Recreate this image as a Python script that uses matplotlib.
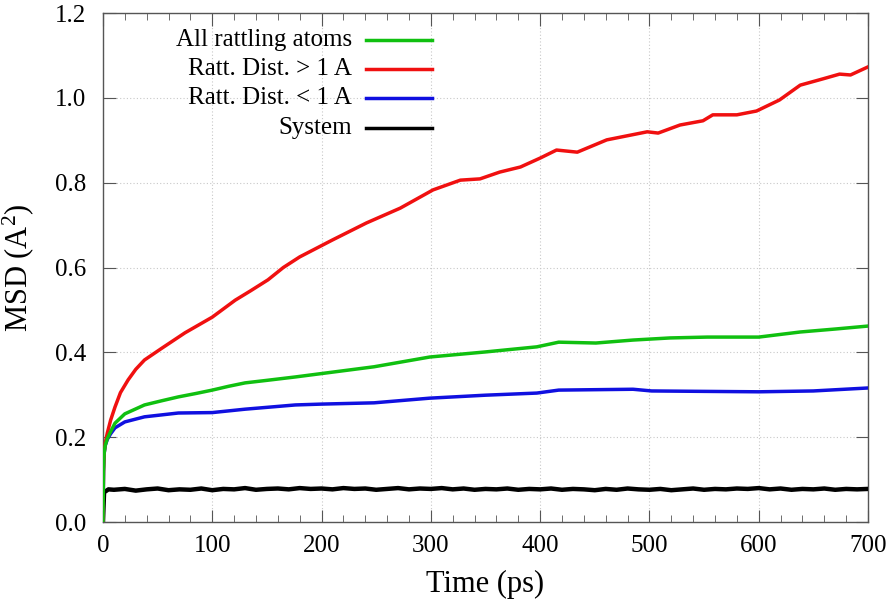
import numpy as np
import matplotlib
matplotlib.use("Agg")
import matplotlib.pyplot as plt
from matplotlib.ticker import MultipleLocator

plt.rcParams["font.family"] = ["Liberation Serif", "DejaVu Serif"]
plt.rcParams["mathtext.fontset"] = "custom"
plt.rcParams["mathtext.rm"] = "Liberation Serif"
plt.rcParams["mathtext.it"] = "Liberation Serif:italic"

# values
t_all = [0, 0.5, 1, 2, 4, 7, 11, 20, 38, 54, 69, 85, 100, 115, 130, 150, 176, 200,
         248, 299, 350, 397, 417, 451, 485, 519, 553, 600, 638, 670, 700]
msd_all = [0.0, 0.12, 0.16, 0.18, 0.197, 0.213, 0.233, 0.255, 0.276, 0.286, 0.295,
           0.303, 0.311, 0.32, 0.328, 0.334, 0.342, 0.35, 0.366, 0.389, 0.401, 0.413,
           0.424, 0.422, 0.429, 0.434, 0.436, 0.436, 0.448, 0.455, 0.462]

t_far = [0, 0.5, 1, 2, 4, 7, 11, 16, 23, 30, 38, 54, 75, 100, 121, 135, 151, 165,
         180, 210, 241, 272, 302, 327, 345, 363, 382, 400, 415, 434, 461, 498, 508,
         528, 549, 558, 580, 598, 619, 638, 659, 674, 684, 700]
msd_far = [0.0, 0.12, 0.16, 0.185, 0.21, 0.24, 0.271, 0.305, 0.335, 0.36, 0.382,
           0.41, 0.446, 0.483, 0.523, 0.545, 0.571, 0.6, 0.625, 0.665, 0.705, 0.74,
           0.783, 0.806, 0.809, 0.825, 0.837, 0.858, 0.877, 0.872, 0.901, 0.92,
           0.917, 0.936, 0.946, 0.96, 0.96, 0.969, 0.995, 1.03, 1.045, 1.056, 1.054,
           1.073]

t_near = [0, 0.5, 1, 2, 4, 7, 11, 20, 38, 69, 100, 130, 176, 200, 248, 299, 350,
          397, 417, 485, 502, 550, 600, 650, 700]
msd_near = [0.0, 0.12, 0.16, 0.18, 0.195, 0.208, 0.222, 0.236, 0.248, 0.257, 0.258,
            0.266, 0.276, 0.278, 0.281, 0.292, 0.299, 0.304, 0.311, 0.313, 0.309,
            0.308, 0.307, 0.309, 0.316]

t_sys = [0, 1, 5] + list(range(10, 701, 10))
msd_sys = [0.0, 0.07, 0.077,
           0.076, 0.078, 0.074, 0.077, 0.079, 0.075, 0.077, 0.076, 0.079, 0.075,
           0.078, 0.077, 0.080, 0.076, 0.078, 0.079, 0.077, 0.080, 0.078, 0.079,
           0.077, 0.080, 0.078, 0.079, 0.076, 0.078, 0.080, 0.077, 0.079, 0.078,
           0.080, 0.077, 0.079, 0.076, 0.078, 0.077, 0.079, 0.076, 0.078, 0.077,
           0.079, 0.076, 0.078, 0.077, 0.075, 0.078, 0.076, 0.079, 0.077, 0.076,
           0.078, 0.075, 0.077, 0.079, 0.076, 0.078, 0.077, 0.079, 0.078, 0.080,
           0.077, 0.079, 0.076, 0.078, 0.077, 0.079, 0.076, 0.078, 0.077, 0.078]

labels = ["All rattling atoms", "Ratt. Dist. > 1 A", "Ratt. Dist. < 1 A", "System"]
colors = ["#10c010", "#f01010", "#1010e0", "#000000"]

fig = plt.figure(figsize=(8.93, 6.15), dpi=100)
ax = fig.add_axes([0.1153, 0.1512, 0.8567, 0.8276])

ax.plot(t_sys, msd_sys, color=colors[3], lw=3.2, zorder=3)
ax.plot(t_near, msd_near, color=colors[2], lw=2.5, zorder=4)
ax.plot(t_far, msd_far, color=colors[1], lw=2.5, zorder=5)
ax.plot(t_all, msd_all, color=colors[0], lw=2.5, zorder=6)

ax.set_xlim(0, 700)
ax.set_ylim(0, 1.2)
ax.xaxis.set_major_locator(MultipleLocator(100))
ax.xaxis.set_minor_locator(MultipleLocator(20))
ax.yaxis.set_major_locator(MultipleLocator(0.2))
ax.yaxis.set_major_formatter(plt.FuncFormatter(lambda v, p: f"{v:.1f}"))
ax.tick_params(which="both", direction="in", top=True, right=True,
               labelsize=18, color="#555555")
ax.tick_params(axis="x", which="major", length=9, pad=9)
ax.tick_params(axis="y", which="major", length=9, pad=12)
ax.tick_params(which="minor", length=5)
ax.grid(True, which="major", color="#c8c8c8", linestyle=(0, (1, 2)), lw=0.8)
for s in ax.spines.values():
    s.set_color("#555555")
    s.set_linewidth(1.0)

ax.set_xlabel("Time (ps)", fontsize=22, labelpad=10)
ax.set_ylabel(r"MSD (A$^{2}$)", fontsize=22, labelpad=14)

# gnuplot-style key: right-aligned text, sample line on the right
rows = [0.947, 0.890, 0.833, 0.774]
for lab, col, yk in zip(labels, colors, rows):
    ax.text(0.3255, yk, lab, transform=ax.transAxes, ha="right", va="center",
            fontsize=18, zorder=7)
    ax.plot([0.344, 0.430], [yk, yk], transform=ax.transAxes, color=col,
            lw=2.5, zorder=7)

fig.savefig("out.png", dpi=100)
